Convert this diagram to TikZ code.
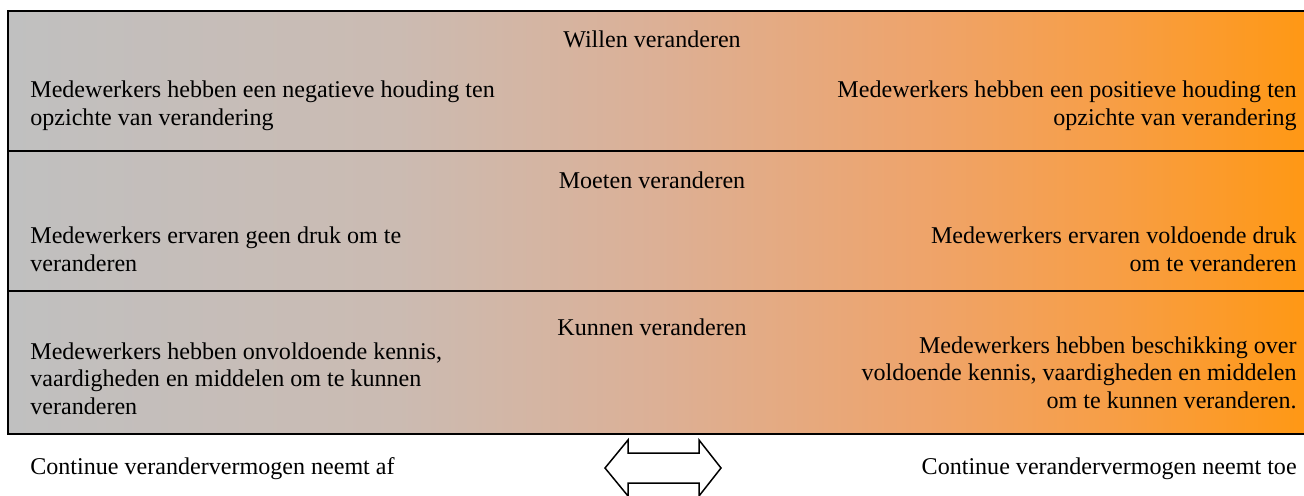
\documentclass[tikz,border=0pt]{standalone}
\usepackage{fontspec}
\setmainfont{Liberation Serif}
\pgfdeclarehorizontalshading{grayorange}{100bp}{rgb(0bp)=(0.753,0.753,0.753); rgb(25bp)=(0.753,0.753,0.753);
	rgb(40bp)=(0.796,0.733,0.698); rgb(50bp)=(0.863,0.690,0.588); rgb(60bp)=(0.933,0.643,0.424);
	rgb(67.5bp)=(0.969,0.620,0.275); rgb(75bp)=(1,0.596,0.078); rgb(100bp)=(1,0.596,0.078)}
\begin{document}
\begin{tikzpicture}[x=0.02cm, y=-0.02cm,
	band/.style = {line width=0.04cm},
	head/.style = {anchor=base, inner sep=0pt, font=\fontsize{13.7pt}{15.5pt}\selectfont},
	lefttext/.style = {anchor=base west, inner sep=0pt, align=left, font=\fontsize{13.7pt}{15.5pt}\selectfont},
	righttext/.style = {anchor=base east, inner sep=0pt, align=right, font=\fontsize{13.7pt}{15.5pt}\selectfont}]
	\useasboundingbox (0,0) rectangle (1304,495);
	\clip (0,0) rectangle (1304,495);

	% shaded bands
	\shade[shading=grayorange] (8,11) rectangle (1306,434);
	\draw[band] (1306,11) -- (8,11) -- (8,434) -- (1306,434);
	\draw[band] (8,151) -- (1306,151);
	\draw[band] (8,291) -- (1306,291);

	% willen
	\node[head] (willen) at (652,47) {Willen veranderen};
	\node[lefttext] (willenL) at (30,125) {Medewerkers hebben een negatieve houding ten\\opzichte van verandering};
	\node[righttext] (willenR) at (1297,125) {Medewerkers hebben een positieve houding ten\\opzichte van verandering};

	% moeten
	\node[head] (moeten) at (652,188) {Moeten veranderen};
	\node[lefttext] (moetenL) at (30,271) {Medewerkers ervaren geen druk om te\\veranderen};
	\node[righttext] (moetenR) at (1297,271) {Medewerkers ervaren voldoende druk\\om te veranderen};

	% kunnen
	\node[head] (kunnen) at (652,335) {Kunnen veranderen};
	\node[lefttext] (kunnenL) at (30,414) {Medewerkers hebben onvoldoende kennis,\\vaardigheden en middelen om te kunnen\\veranderen};
	\node[righttext] (kunnenR) at (1297,408) {Medewerkers hebben beschikking over\\voldoende kennis, vaardigheden en middelen\\om te kunnen veranderen.};

	% onderkant
	\node[lefttext] (afname) at (30,474) {Continue verandervermogen neemt af};
	\node[righttext] (toename) at (1297,474) {Continue verandervermogen neemt toe};
	\draw[line width=0.03cm] (605,468) -- (628,440) -- (628,453) -- (699,453) -- (699,440) -- (721,468)
		-- (699,496) -- (699,483) -- (628,483) -- (628,496) -- cycle;
\end{tikzpicture}
\end{document}
